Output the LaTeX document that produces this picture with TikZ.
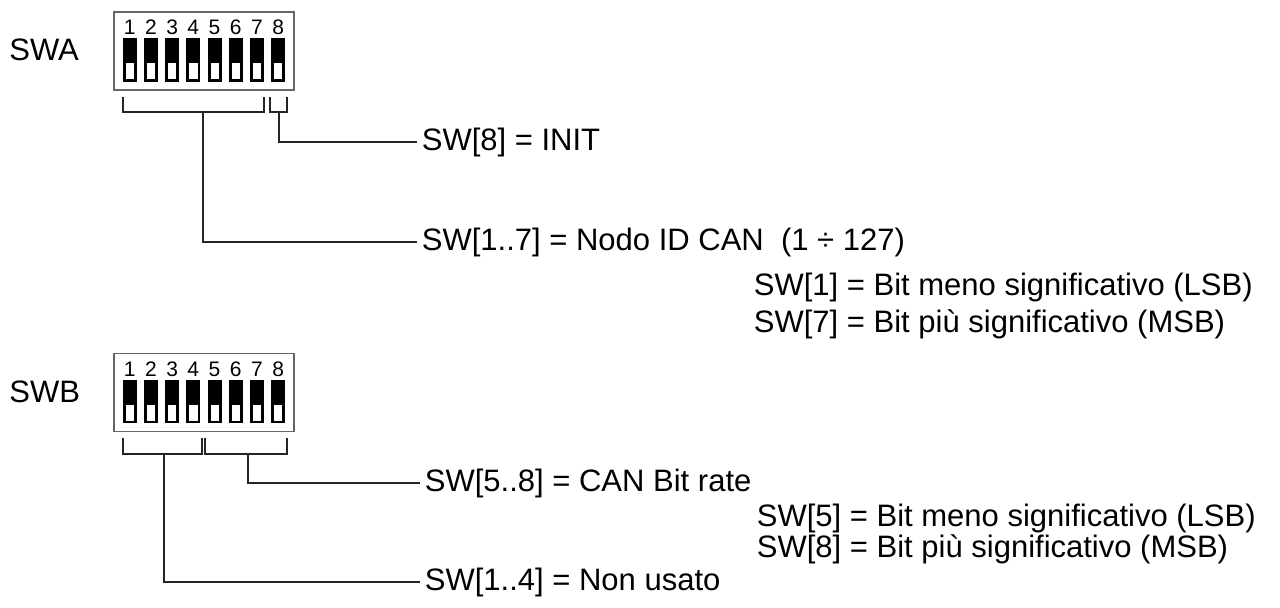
\documentclass[tikz,border=0pt]{standalone}
\usepackage{fontspec}
\setmainfont{Liberation Sans}
\usetikzlibrary{positioning,calc}

\tikzset{
  frame/.style={draw=black!60, line width=0.75pt},
  brk/.style={draw=black!85, line width=1pt},
  conn/.style={draw=black!85, line width=1pt, shorten >=2.5pt},
  lbl/.style={anchor=west, inner sep=0pt, text height=0.85em, text depth=0pt,
    font=\fontsize{15.5}{18}\selectfont},
  note/.style={anchor=base west, inner sep=0pt, font=\fontsize{15.5}{18}\selectfont},
  num/.style={anchor=base, inner sep=0pt, font=\fontsize{10.5}{12}\selectfont},
}

\begin{document}
\begin{tikzpicture}[x=0.5pt, y=-0.5pt]
  \useasboundingbox (0,0) rectangle (1280,607);

  % DIP switch blocks
  \foreach \b/\dy in {a/0, b/341.7} {
    \draw[frame] (114,12+\dy) rectangle (294,90+\dy);
    \foreach \i in {1,...,8} {
      \pgfmathsetmacro{\x}{122.7+21.2*(\i-1)}
      \node[num] (sw\b-n\i) at (\x+7,34.3+\dy) {\i};
      \fill[black] (\x,38.3+\dy) rectangle (\x+14,81.7+\dy);
      \fill[white] (\x+3,63.3+\dy) rectangle (\x+11.3,79.3+\dy);
    }
  }

  \node[note] (swaname) at (9,60) {SWA};
  \node[note] (swbname) at (9,402) {SWB};

  % Brackets under SWA
  \draw[brk] (122.7,96.7) |- (264,111.7) -- (264,96.7);
  \draw[brk] (270,96.7) |- (286.7,111.7) -- (286.7,96.7);
  \coordinate (ida) at (203,111.7);
  \coordinate (inita) at (279,111.7);

  % Brackets under SWB
  \draw[brk] (122.7,438) |- (201.7,454) -- (201.7,438);
  \draw[brk] (205,438) |- (286.7,454) -- (286.7,438);
  \coordinate (unusedb) at (164.3,454);
  \coordinate (rateb) at (248.3,454);

  % Labels SWA
  \node[lbl] (init) at (421.5,141.7) {SW[8] = INIT};
  \node[lbl] (nodeid) at (421.5,241.7) {SW[1..7] = Nodo ID CAN\ \ (1 ÷ 127)};
  \node[note] (lsba) at (753.5,295) {SW[1] = Bit meno significativo (LSB)};
  \node[note] (msba) at (753.5,332) {SW[7] = Bit più significativo (MSB)};

  % Labels SWB
  \node[lbl] (rate) at (424.5,483.3) {SW[5..8] = CAN Bit rate};
  \node[note] (lsbb) at (756.5,526) {SW[5] = Bit meno significativo (LSB)};
  \node[note] (msbb) at (756.5,557) {SW[8] = Bit più significativo (MSB)};
  \node[lbl] (unused) at (424.5,582.3) {SW[1..4] = Non usato};

  % Connectors
  \draw[conn] (inita) |- (init.west);
  \draw[conn] (ida) |- (nodeid.west);
  \draw[conn] (rateb) |- (rate.west);
  \draw[conn] (unusedb) |- (unused.west);
\end{tikzpicture}
\end{document}
